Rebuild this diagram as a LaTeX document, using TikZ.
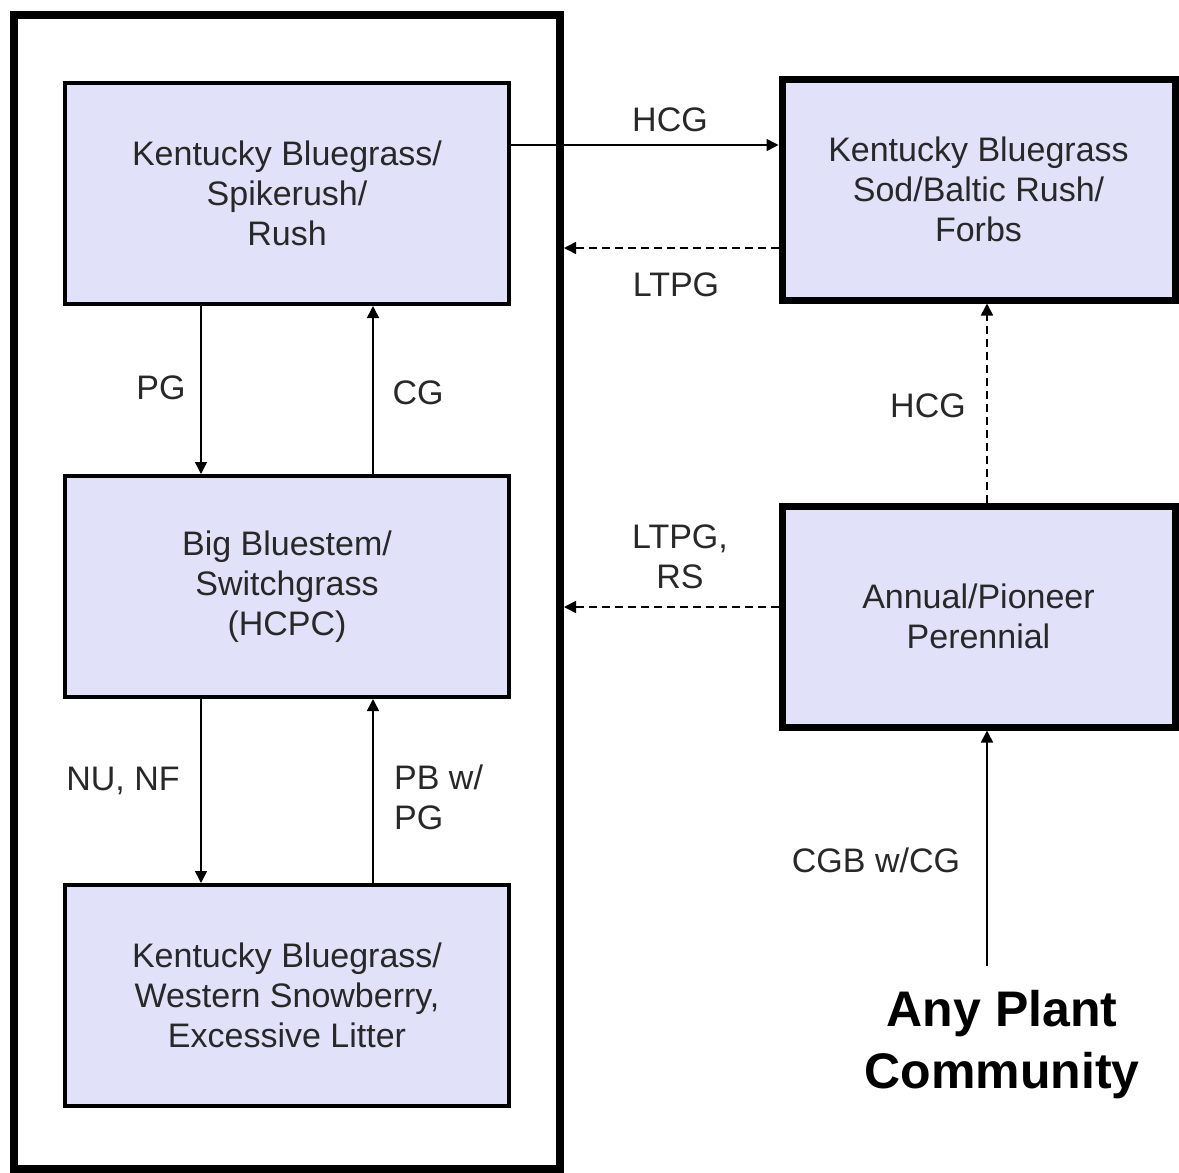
\documentclass[tikz,border=0pt]{standalone}
\usepackage{fontspec}
\setmainfont{Liberation Sans}
\usetikzlibrary{arrows.meta}
\definecolor{boxfill}{RGB}{225,225,249}
\definecolor{txt}{RGB}{40,40,40}
\tikzset{
  every node/.style={text=txt},
  lbox/.style={draw=black, fill=boxfill, line width=4pt, minimum width=444pt, minimum height=221pt, align=center, font=\fontsize{34}{40}\selectfont, inner sep=0pt},
  rbox/.style={draw=black, fill=boxfill, line width=7pt, minimum width=393pt, minimum height=221pt, align=center, font=\fontsize{34}{40}\selectfont, inner sep=0pt},
  lbl/.style={font=\fontsize{34}{40}\selectfont, inner sep=0pt},
  arr/.style={line width=1.6pt, -{Triangle[length=12pt,width=12pt]}},
  darr/.style={arr, dash pattern=on 8pt off 5pt},
}
\begin{document}
\begin{tikzpicture}[x=1pt,y=-1pt]
\useasboundingbox (0,0) rectangle (1179,1173);
\fill[white] (0,0) rectangle (1179,1173);
% outer frame
\node[draw=black, line width=8pt, minimum width=546.5pt, minimum height=1154.5pt, inner sep=0pt] (outer) at (286.75,591.75) {};
% left boxes
\node[lbox] (b1) at (287,193.5) {Kentucky Bluegrass/\\Spikerush/\\Rush};
\node[lbox] (b2) at (287,586.5) {Big Bluestem/\\Switchgrass\\(HCPC)};
\node[lbox] (b3) at (287,995.5) {Kentucky Bluegrass/\\Western Snowberry,\\Excessive Litter};
% right boxes
\node[rbox] (r1) at (978.5,189.5) {Kentucky Bluegrass\\Sod/Baltic Rush/\\Forbs};
\node[rbox] (r2) at (978.5,616.5) {Annual/Pioneer\\Perennial};
% any plant community
\node[font=\fontsize{50}{62}\bfseries\selectfont, align=center, inner sep=0pt, text=black] (any) at (1002,1045) {Any Plant\\Community};
% connectors
\draw[arr] (b1.east |- 0,145) -- (r1.west |- 0,145);
\draw[darr] (r1.west |- 0,248) -- (outer.east |- 0,248);
\draw[darr] (r2.west |- 0,607) -- (outer.east |- 0,607);
\draw[darr] ([xshift=8.5pt]r2.north) -- ([xshift=8.5pt]r1.south);
\draw[arr] ([xshift=-15pt,yshift=25pt]any.north) -- ([xshift=8.5pt]r2.south);
\draw[arr] ([xshift=-86pt]b1.south) -- ([xshift=-86pt]b2.north);
\draw[arr] ([xshift=86pt]b2.north) -- ([xshift=86pt]b1.south);
\draw[arr] ([xshift=-86pt]b2.south) -- ([xshift=-86pt]b3.north);
\draw[arr] ([xshift=86pt]b3.north) -- ([xshift=86pt]b2.south);
% labels
\node[lbl] (l1) at (670,120) {HCG};
\node[lbl] (l2) at (676,285) {LTPG};
\node[lbl, align=center] (l3) at (680,557) {LTPG,\\RS};
\node[lbl] (l4) at (928,406) {HCG};
\node[lbl] (l5) at (161,388) {PG};
\node[lbl] (l6) at (418,393) {CG};
\node[lbl] (l7) at (123,781) {NU, NF};
\node[lbl, align=left, anchor=west] (l8) at (394,797) {PB w/\\PG};
\node[lbl] (l9) at (876,860) {CGB w/CG};
\end{tikzpicture}
\end{document}
